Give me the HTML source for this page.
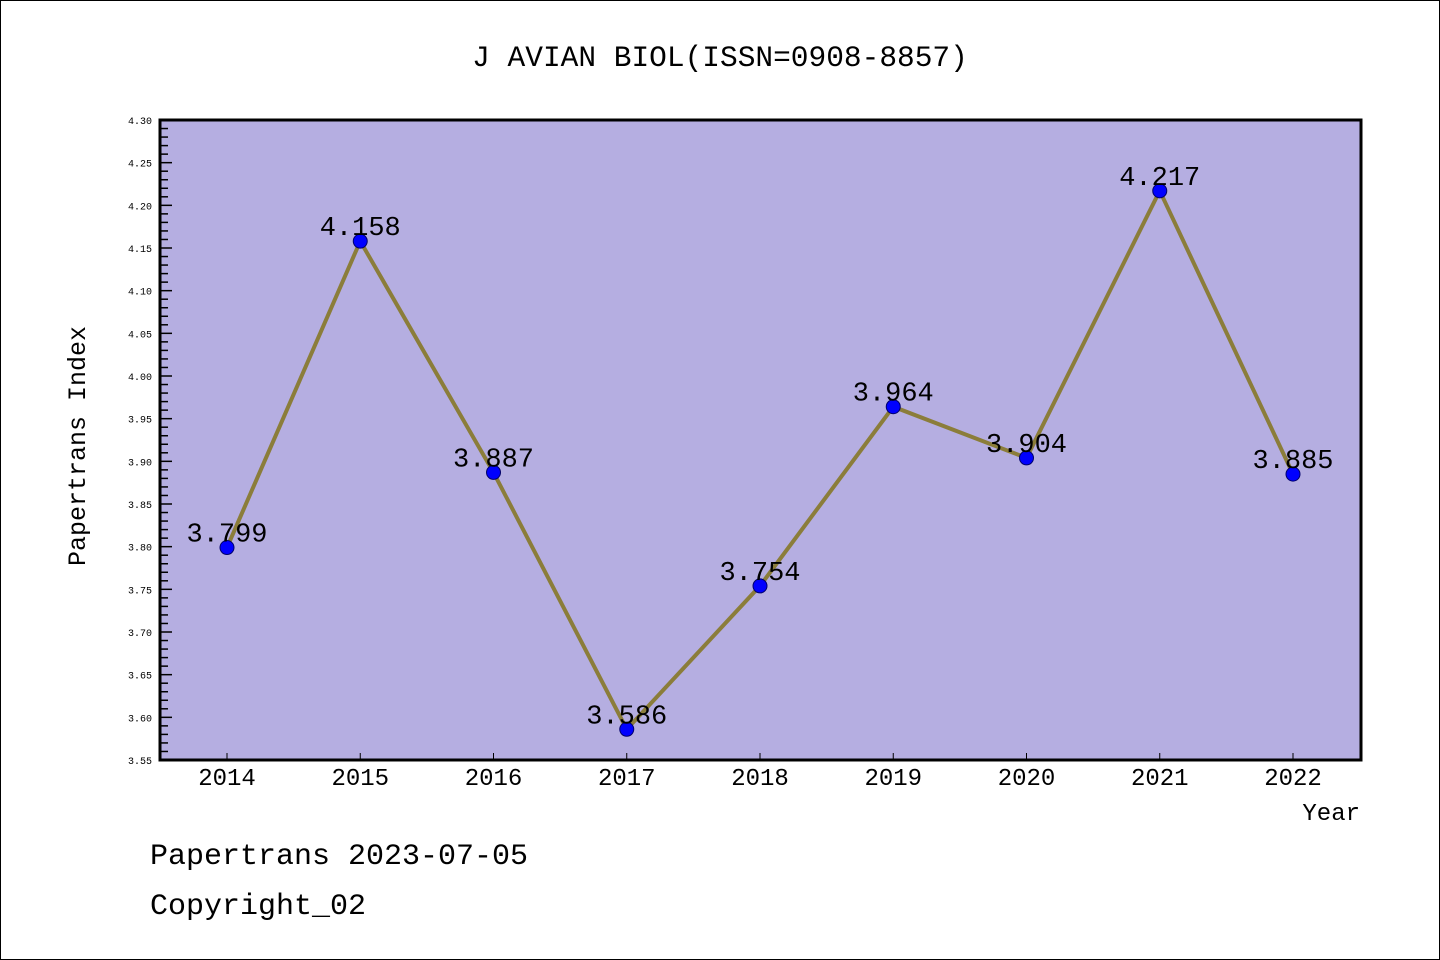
<!DOCTYPE html>
<html><head><meta charset="utf-8"><style>
html,body{margin:0;padding:0;background:#fff;}
svg{display:block;}
text{font-family:"Liberation Mono","WenQuanYi Zen Hei",monospace;}
</style></head><body>
<svg id="chart" width="1440" height="960">
<rect x="0.5" y="0.5" width="1439" height="959" fill="#fff" stroke="#000"/>
<text x="720" y="66" font-size="29.5" text-anchor="middle">J AVIAN BIOL(ISSN=0908-8857)</text>
<rect x="160" y="120" width="1201" height="640" fill="#b5aee1"/>
<g id="axes"></g>
<g id="series"></g>
<rect x="160" y="120" width="1201" height="640" fill="none" stroke="#000" stroke-width="3"/>
<text transform="translate(85,446) rotate(-90)" font-size="25" text-anchor="middle">Papertrans Index</text>
<text x="1360" y="820" font-size="24" text-anchor="end">Year</text>
<text x="150" y="864" font-size="30">Papertrans 2023-07-05</text>
<text x="150" y="914" font-size="30">Copyright_02</text>
</svg>
<script>
const years = ["2014","2015","2016","2017","2018","2019","2020","2021","2022"];
const values = [3.799,4.158,3.887,3.586,3.754,3.964,3.904,4.217,3.885];
const valueLabels = ["3.799","4.158","3.887","3.586","3.754","3.964","3.904","4.217","3.885"];
const yTicks = ["3.55","3.60","3.65","3.70","3.75","3.80","3.85","3.90","3.95","4.00","4.05","4.10","4.15","4.20","4.25","4.30"];
const yMin = 3.55, yMax = 4.30;
const NS = "http://www.w3.org/2000/svg";
function yScale(v){return 760 - (v - yMin) / (yMax - yMin) * 640;}
function xScale(i){return 227 + i * (1293 - 227) / (years.length - 1);}
const axes = document.getElementById('axes');
const series = document.getElementById('series');
function mk(tag, attrs, parent){const e=document.createElementNS(NS,tag);for(const k in attrs)e.setAttribute(k,attrs[k]);parent.appendChild(e);return e;}
// y ticks
for (let i=0;i<yTicks.length;i++){
  const v=parseFloat(yTicks[i]); const y=yScale(v);
  const t=mk('line',{x1:160,x2:172,y1:y,y2:y,stroke:'#000','stroke-width':1.5},axes);
  
  
  const lb=mk('text',{x:152,y:y+4,'font-size':10,'text-anchor':'end','font-family':'Liberation Sans, sans-serif'},axes);
  lb.textContent=yTicks[i];
  
  
  if(i<yTicks.length-1){
    for(let m=1;m<5;m++){
      const ym=yScale(v+0.01*m);
      const mt=mk('line',{x1:160,x2:168,y1:ym,y2:ym,stroke:'#000','stroke-width':1.5},axes);
      
      
    }
  }
}
// x ticks
for (let i=0;i<years.length;i++){
  const x=xScale(i);
  const t=mk('line',{x1:x,x2:x,y1:753,y2:760,stroke:'#000','stroke-width':1},axes);
  
  
  const lb=mk('text',{x:x,y:785,'font-size':24,'text-anchor':'middle','font-family':'Liberation Sans, sans-serif'},axes);
  lb.textContent=years[i];
  
  
}
// line
const pts=values.map((v,i)=>xScale(i)+','+yScale(v)).join(' ');
const pl=mk('polyline',{points:pts,fill:'none',stroke:'#8b7d3a','stroke-width':4,'stroke-linejoin':'miter'},series);


for (let i=0;i<values.length;i++){
  const x=xScale(i), y=yScale(values[i]);
  const c=mk('circle',{cx:x,cy:y,r:7,fill:'#0000ff',stroke:'#00006a','stroke-width':1},series);
  
  
}
for (let i=0;i<values.length;i++){
  const x=xScale(i), y=yScale(values[i]);
  const lb=mk('text',{x:x,y:y-6,'font-size':27,'text-anchor':'middle'},series);
  lb.textContent=valueLabels[i];
  
  
}
</script>
</body></html>
